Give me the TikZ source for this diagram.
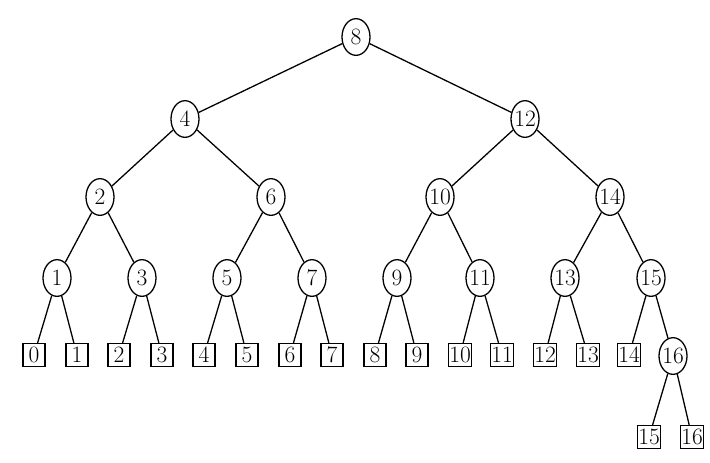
\documentclass[tikz,border=0pt]{standalone}
\usepackage{tikz}
\usetikzlibrary{shapes.geometric}

\begin{document}
\begin{tikzpicture}[x=0.03cm, y=-0.03cm,
        inner/.style={draw, ellipse, line width=1.1pt, inner xsep=-3pt, inner ysep=0pt,
            minimum width=0.84cm, minimum height=1.1cm, font=\fontsize{20}{23}\selectfont},
        leaf/.style={draw, rectangle, line width=1.1pt, inner sep=0.5pt,
            minimum width=0.66cm, minimum height=0.69cm, font=\fontsize{20}{23}\selectfont},
        every path/.style={line width=1.1pt}]
        \useasboundingbox (0,0) rectangle (710,462);

        \node[inner] (8) at (356,37) {8};
        \node[inner] (4) at (185,119) {4};
        \node[inner] (12) at (525,119) {12};
        \node[inner] (2) at (100,197) {2};
        \node[inner] (6) at (271,197) {6};
        \node[inner] (10) at (440,197) {10};
        \node[inner] (14) at (610,197) {14};
        \node[inner] (1) at (57,278) {1};
        \node[inner] (3) at (142,278) {3};
        \node[inner] (5) at (227,278) {5};
        \node[inner] (7) at (312,278) {7};
        \node[inner] (9) at (397,278) {9};
        \node[inner] (11) at (480,278) {11};
        \node[inner] (13) at (565,278) {13};
        \node[inner] (15) at (651,278) {15};
        \node[inner] (16) at (673,356) {16};

        \node[leaf] (l0) at (34,355) {0};
        \node[leaf] (l1) at (77,355) {1};
        \node[leaf] (l2) at (119,355) {2};
        \node[leaf] (l3) at (162,355) {3};
        \node[leaf] (l4) at (204,355) {4};
        \node[leaf] (l5) at (247,355) {5};
        \node[leaf] (l6) at (290,355) {6};
        \node[leaf] (l7) at (332,355) {7};
        \node[leaf] (l8) at (375,355) {8};
        \node[leaf] (l9) at (417,355) {9};
        \node[leaf] (l10) at (460,355) {10};
        \node[leaf] (l11) at (502,355) {11};
        \node[leaf] (l12) at (545,355) {12};
        \node[leaf] (l13) at (588,355) {13};
        \node[leaf] (l14) at (629,355) {14};
        \node[leaf] (l15) at (649,437) {15};
        \node[leaf] (l16) at (692,437) {16};

        \draw[-] (8) -- (4);
        \draw[-] (8) -- (12);
        \draw[-] (4) -- (2);
        \draw[-] (4) -- (6);
        \draw[-] (12) -- (10);
        \draw[-] (12) -- (14);
        \draw[-] (2) -- (1);
        \draw[-] (2) -- (3);
        \draw[-] (6) -- (5);
        \draw[-] (6) -- (7);
        \draw[-] (10) -- (9);
        \draw[-] (10) -- (11);
        \draw[-] (14) -- (13);
        \draw[-] (14) -- (15);
        \draw[-] (1) -- (l0);
        \draw[-] (1) -- (l1);
        \draw[-] (3) -- (l2);
        \draw[-] (3) -- (l3);
        \draw[-] (5) -- (l4);
        \draw[-] (5) -- (l5);
        \draw[-] (7) -- (l6);
        \draw[-] (7) -- (l7);
        \draw[-] (9) -- (l8);
        \draw[-] (9) -- (l9);
        \draw[-] (11) -- (l10);
        \draw[-] (11) -- (l11);
        \draw[-] (13) -- (l12);
        \draw[-] (13) -- (l13);
        \draw[-] (15) -- (l14);
        \draw[-] (15) -- (16);
        \draw[-] (16) -- (l15);
        \draw[-] (16) -- (l16);
    \end{tikzpicture}
\end{document}
